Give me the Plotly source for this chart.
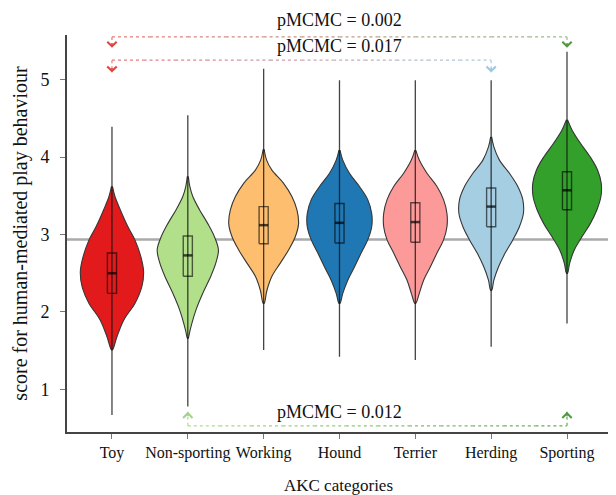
import plotly.graph_objects as go

# ---------------- data ----------------
categories = ["Toy", "Non-sporting", "Working", "Hound", "Terrier", "Herding", "Sporting"]
colors = ["#e31a1c", "#b2df8a", "#fdbf6f", "#1f78b4", "#fb9a99", "#a6cee3", "#33a02c"]

q1 = [2.24, 2.46, 2.88, 2.89, 2.90, 3.10, 3.32]
median = [2.50, 2.73, 3.12, 3.15, 3.16, 3.36, 3.57]
q3 = [2.76, 2.98, 3.36, 3.40, 3.41, 3.60, 3.81]
vmin = [0.67, 0.78, 1.51, 1.42, 1.38, 1.55, 1.85]
vmax = [4.39, 4.54, 5.14, 4.99, 4.99, 4.99, 5.36]

# violin density profiles (score level, relative density)
toy_y = [3.62, 3.49, 3.32, 3.10, 2.93, 2.71, 2.52, 2.33, 2.11, 1.90, 1.68, 1.51]
toy_d = [0.5, 3.0, 8.3, 16.0, 23.0, 29.0, 31.7, 30.0, 23.0, 12.0, 5.0, 0.5]
nonsporting_y = [3.75, 3.62, 3.49, 3.32, 3.14, 2.97, 2.80, 2.63, 2.46, 2.24, 2.03, 1.85, 1.73, 1.66]
nonsporting_d = [0.5, 2.0, 5.0, 11.7, 20.0, 26.7, 30.7, 28.0, 23.0, 15.0, 8.3, 4.0, 1.7, 0.4]
working_y = [4.10, 3.96, 3.83, 3.66, 3.49, 3.32, 3.14, 2.97, 2.80, 2.63, 2.46, 2.28, 2.11]
working_d = [0.5, 3.0, 8.3, 20.0, 28.3, 33.3, 35.0, 31.7, 25.0, 16.7, 8.3, 3.3, 0.5]
hound_y = [4.09, 3.96, 3.79, 3.62, 3.45, 3.27, 3.10, 2.93, 2.76, 2.58, 2.41, 2.24, 2.11]
hound_d = [0.5, 3.3, 10.0, 20.0, 28.3, 32.3, 32.3, 28.3, 21.7, 15.0, 8.3, 3.3, 0.5]
terrier_y = [4.09, 3.96, 3.79, 3.62, 3.45, 3.27, 3.10, 2.93, 2.76, 2.58, 2.41, 2.24, 2.11]
terrier_d = [0.5, 4.0, 11.7, 21.7, 28.3, 31.7, 31.7, 28.3, 21.7, 15.0, 8.3, 4.0, 0.5]
herding_y = [4.26, 4.13, 3.96, 3.79, 3.62, 3.45, 3.27, 3.10, 2.93, 2.76, 2.58, 2.41, 2.28]
herding_d = [0.5, 2.7, 8.3, 18.3, 26.7, 31.7, 32.3, 28.3, 21.7, 14.0, 7.3, 2.7, 0.5]
sporting_y = [4.48, 4.35, 4.18, 4.00, 3.83, 3.66, 3.49, 3.32, 3.14, 2.97, 2.80, 2.63, 2.50]
sporting_d = [0.5, 5.0, 13.3, 23.3, 30.7, 34.3, 34.0, 30.0, 23.3, 15.0, 7.3, 2.7, 0.5]

profiles_y = [toy_y, nonsporting_y, working_y, hound_y, terrier_y, herding_y, sporting_y]
profiles_d = [toy_d, nonsporting_d, working_d, hound_d, terrier_d, herding_d, sporting_d]

overall_mean = 2.935

comp_from = ["Toy", "Toy", "Non-sporting"]
comp_to = ["Sporting", "Herding", "Sporting"]
comp_labels = ["pMCMC = 0.002", "pMCMC = 0.017", "pMCMC = 0.012"]

# ---------------- styling / layout ----------------
DENS_SCALE = 1 / 76.0   # density units -> category units
BOX_HW = 0.06
FONT = "Liberation Serif, Times New Roman, serif"

fig = go.Figure()

for i, cat in enumerate(categories):
    ys = profiles_y[i]
    ds = profiles_d[i]
    xr = [i + d * DENS_SCALE for d in ds]
    xl = [i - d * DENS_SCALE for d in ds]
    fig.add_trace(go.Scatter(
        x=xr + xl[::-1], y=ys + ys[::-1], mode="lines", fill="toself",
        fillcolor=colors[i], line=dict(color="#363636", width=1.1, shape="spline", smoothing=1),
        hoverinfo="skip", showlegend=False))
    fig.add_trace(go.Scatter(
        x=[i, i], y=[vmin[i], vmax[i]], mode="lines",
        line=dict(color="rgba(20,20,20,0.8)", width=1.3), hoverinfo="skip", showlegend=False))
    fig.add_trace(go.Scatter(
        x=[i - BOX_HW, i + BOX_HW, i + BOX_HW, i - BOX_HW, i - BOX_HW],
        y=[q1[i], q1[i], q3[i], q3[i], q1[i]], mode="lines",
        line=dict(color="rgba(0,0,0,0.6)", width=1.4), hoverinfo="skip", showlegend=False))
    fig.add_trace(go.Scatter(
        x=[i - BOX_HW, i + BOX_HW], y=[median[i], median[i]], mode="lines",
        line=dict(color="rgba(0,0,0,0.7)", width=2.5), hoverinfo="skip", showlegend=False))

shapes = [dict(type="line", xref="paper", x0=0, x1=1, yref="y", y0=overall_mean, y1=overall_mean,
               line=dict(color="#aaaaaa", width=2.5), layer="below")]
annotations = []

bracket_y = [5.55, 5.25, 0.53]
tip_y = [5.41, 5.09, 0.71]
start_cols = [(229, 120, 122), (229, 120, 122), (178, 223, 138)]
end_cols = [(150, 190, 140), (166, 206, 227), (100, 170, 90)]
arrow_cols = [("#e0453f", "#4f9a3f"), ("#e0453f", "#9cc7e0"), ("#9fd486", "#4f9a3f")]
label_shift = [5, 2, 2]


def mix(a, b, t):
    return "rgb(%d,%d,%d)" % tuple(round(a[k] + (b[k] - a[k]) * t) for k in range(3))


for j in range(len(comp_labels)):
    a = categories.index(comp_from[j])
    b = categories.index(comp_to[j])
    by = bracket_y[j]
    ty = tip_y[j]
    nseg = 12
    for s in range(nseg):
        x0 = a + (b - a) * s / nseg
        x1 = a + (b - a) * (s + 1) / nseg
        shapes.append(dict(type="line", xref="x", yref="y", x0=x0, x1=x1, y0=by, y1=by,
                           line=dict(color=mix(start_cols[j], end_cols[j], (s + 0.5) / nseg),
                                     width=1.2, dash="dot")))
    down = ty < by
    for xi, col, c2 in ((a, start_cols[j], arrow_cols[j][0]), (b, end_cols[j], arrow_cols[j][1])):
        shapes.append(dict(type="line", xref="x", yref="y", x0=xi, x1=xi, y0=by, y1=ty,
                           line=dict(color=mix(col, col, 0), width=1.2, dash="dot")))
        annotations.append(dict(x=xi, y=ty, xref="x", yref="y", text="", showarrow=True,
                                ax=0, ay=-6 if down else 6, arrowhead=4, arrowsize=1.2,
                                arrowwidth=1.5, arrowcolor=c2))
    annotations.append(dict(x=categories.index("Hound"), y=by, xref="x", yref="y",
                            text=comp_labels[j], showarrow=False, yanchor="bottom",
                            yshift=label_shift[j],
                            font=dict(family=FONT, size=18, color="#111")))

# the page body adds an 8px offset; size the figure so the plot lands where the source has it
fig.update_layout(
    width=608, height=487,
    margin=dict(l=59, r=6, t=27, b=63),
    paper_bgcolor="white", plot_bgcolor="white",
    shapes=shapes, annotations=annotations,
    font=dict(family=FONT, size=17, color="#111"),
    xaxis=dict(range=[-0.593, 6.567], tickmode="array", tickvals=list(range(len(categories))),
               ticktext=categories, tickangle=0, automargin=False,
               showline=True, linecolor="#444", linewidth=2,
               ticks="outside", ticklen=5, tickcolor="#777", showgrid=False, zeroline=False,
               tickfont=dict(family=FONT, size=16, color="#111"),
               title=dict(text="AKC categories", standoff=19,
                          font=dict(family=FONT, size=17, color="#111"))),
    yaxis=dict(range=[0.45, 5.575], tickmode="array", tickvals=[1, 2, 3, 4, 5],
               automargin=False, ticklabelstandoff=7,
               showline=True, linecolor="#444", linewidth=2,
               ticks="outside", ticklen=5, tickcolor="#777", showgrid=False, zeroline=False,
               tickfont=dict(family=FONT, size=18, color="#111"),
               title=dict(text="score for human-mediated play behaviour", standoff=7,
                          font=dict(family=FONT, size=20, color="#111"))),
)

fig.write_html("out.html")
